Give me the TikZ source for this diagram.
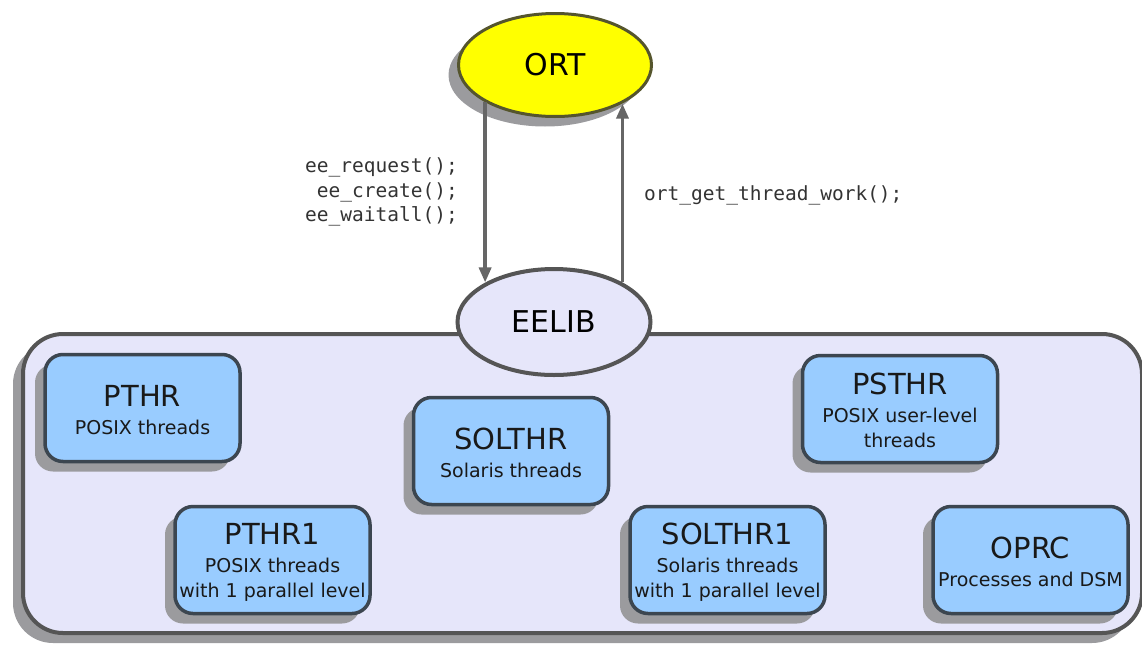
\documentclass[tikz,border=0pt]{standalone}
\usepackage{fontspec}
\setmainfont{DejaVu Sans}
\setmonofont{DejaVu Sans Mono}
\usetikzlibrary{shapes.geometric,shadows,arrows.meta}
\definecolor{boxfill}{RGB}{153,204,255}
\definecolor{boxline}{RGB}{60,70,80}
\definecolor{lav}{RGB}{230,230,250}
\definecolor{contline}{RGB}{85,85,85}
\definecolor{arrgray}{RGB}{102,102,102}
\definecolor{shadowgray}{RGB}{155,155,158}
\definecolor{ortline}{RGB}{85,85,45}
\definecolor{ortfill}{RGB}{255,255,0}
\newcommand\ttlfont{\fontsize{29}{31}\selectfont}
\newcommand\subfont{\fontsize{19}{25}\selectfont}
\newcommand\monofont{\ttfamily\fontsize{19.5}{24.5}\selectfont}
\newcommand\ttlstrut{\rule{0pt}{25pt}}
\begin{document}
\begin{tikzpicture}[x=1pt,y=-1pt,
  shad/.style={drop shadow={shadow xshift=-10pt,shadow yshift=-10pt,fill=shadowgray,opacity=1}},
  container/.style={shad, draw=contline, line width=4pt, fill=lav, rounded corners=40pt,
    minimum width=1119pt, minimum height=299pt, inner sep=0pt},
  modbox/.style={shad, draw=boxline, line width=3.5pt, fill=boxfill, rounded corners=18pt,
    align=center, inner sep=0pt, minimum width=195pt, minimum height=107pt,
    font=\subfont, text=black!90},
  oval/.style={ellipse, inner sep=0pt, font=\fontsize{30}{32}\selectfont, text=black},
  arr/.style={draw=arrgray, line width=3.5pt, -{Triangle[length=15pt,width=12pt]}},
  lbl/.style={font=\monofont, text=black!80, inner sep=0pt}
]
\useasboundingbox (0,0) rectangle (1142,648);

\node[container] (cont) at (582.5,483.5) {};

\node[modbox] (pthr)    at (142.5,408)   {{\ttlfont\ttlstrut PTHR}\\[3pt]POSIX threads};
\node[modbox] (solthr)  at (511,451)     {{\ttlfont\ttlstrut SOLTHR}\\[3pt]Solaris threads};
\node[modbox] (psthr)   at (900,409)     {{\ttlfont\ttlstrut PSTHR}\\[3pt]POSIX user-level\\threads};
\node[modbox] (pthr1)   at (272.5,560)   {{\ttlfont\ttlstrut PTHR1}\\[3pt]POSIX threads\\with 1 parallel level};
\node[modbox] (solthr1) at (727.5,560)   {{\ttlfont\ttlstrut SOLTHR1}\\[3pt]Solaris threads\\with 1 parallel level};
\node[modbox] (oprc)    at (1030.5,560)  {{\ttlfont\ttlstrut OPRC}\\[3pt]Processes and DSM};

\node[oval, draw=contline, line width=4pt, fill=lav, minimum width=193pt, minimum height=106pt] (eelib) at (554,322) {EELIB};
\node[oval, shad, draw=ortline, line width=3pt, fill=ortfill, minimum width=193pt, minimum height=103pt] (ort) at (555,65) {ORT};

\draw[arr] (ort.208) -- (ort.208 |- eelib.150);
\draw[arr] (eelib.30) -- (eelib.30 |- ort.330);

\node[lbl, anchor=east, align=right] (calls) at (458,192) {ee\_request();\\ee\_create();\\ee\_waitall();};
\node[lbl, anchor=west] (work) at (644,195) {ort\_get\_thread\_work();};
\end{tikzpicture}
\end{document}
